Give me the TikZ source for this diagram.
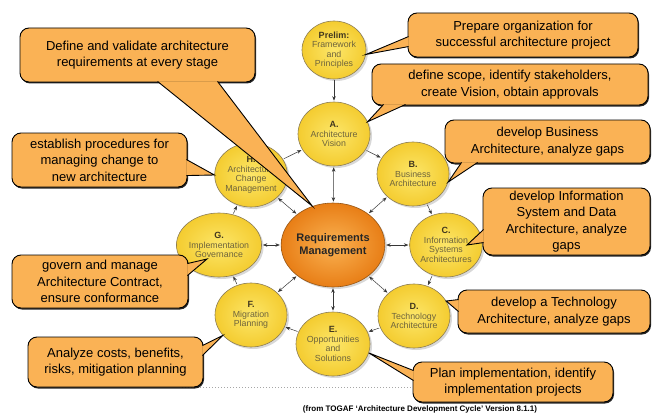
\documentclass[tikz,border=0pt]{standalone}
\usepackage{fontspec}
\setmainfont{Liberation Sans}
\usepackage{tikz}
\usetikzlibrary{arrows.meta,shapes.geometric,shadows,calc}

\definecolor{noteorange}{RGB}{250,178,85}
\definecolor{phaseyellow}{RGB}{244,204,48}
\definecolor{phaselight}{RGB}{252,230,105}
\definecolor{phaseedge}{RGB}{140,125,85}
\definecolor{phasetext}{RGB}{110,100,60}
\definecolor{letterdark}{RGB}{65,55,30}
\definecolor{hubouter}{RGB}{232,126,22}
\definecolor{hubinner}{RGB}{250,178,82}
\definecolor{hubedge}{RGB}{150,85,20}
\definecolor{arrowgray}{RGB}{55,55,55}

\tikzset{
  phase/.style={ellipse, draw=phaseedge, line width=0.6pt, inner color=phaselight, outer color=phaseyellow,
    minimum width=72pt, minimum height=64pt, inner sep=0pt, align=center, text=phasetext,
    font=\fontsize{8.8}{9.5}\selectfont,
    drop shadow={shadow xshift=2pt, shadow yshift=-2pt, fill=black!30, opacity=0.5}},
  hub/.style={ellipse, draw=hubedge, line width=0.6pt, inner color=hubinner, outer color=hubouter,
    minimum width=90pt, minimum height=84pt, inner sep=0pt, align=center, text=black!85,
    font=\fontsize{11}{13}\selectfont\bfseries,
    drop shadow={shadow xshift=2pt, shadow yshift=-2pt, fill=black!30, opacity=0.5}},
  note/.style={rectangle, rounded corners=9pt, draw=black, line width=0.9pt, fill=noteorange,
    align=center, inner sep=0pt, font=\fontsize{13}{16.5}\selectfont,
    drop shadow={shadow xshift=1pt, shadow yshift=-1.5pt, fill=black, opacity=0.85}},
  tail/.style={draw=black, line width=0.9pt, fill=noteorange, line join=miter},
  ring/.style={draw=arrowgray, line width=0.5pt, -{Stealth[length=4.5pt,width=3.5pt]}, shorten >=1pt, shorten <=1pt},
  spoke/.style={draw=arrowgray, line width=0.5pt, {Stealth[length=4.5pt,width=3.5pt]}-{Stealth[length=4.5pt,width=3.5pt]}, shorten >=1pt, shorten <=1pt}
}
\newcommand{\stage}[1]{{\color{letterdark}\fontsize{9}{9.5}\selectfont\bfseries #1}}

\begin{document}
\begin{tikzpicture}[x=1pt, y=1pt]
  \useasboundingbox (0,0) rectangle (652,-417);

  % the cycle
  \node[phase, minimum width=64pt, minimum height=58pt] (prelim) at (334,-50) {\stage{Prelim:}\\Framework\\and\\Principles};
  \node[phase] (visionA) at (334,-134) {\stage{A.}\\Architecture\\Vision};
  \node[phase] (bizB) at (413,-174) {\stage{B.}\\Business\\Architecture};
  \node[phase] (infoC) at (446,-245) {\stage{C.}\\Information\\Systems\\Architectures};
  \node[phase] (techD) at (414,-316) {\stage{D.}\\Technology\\Architecture};
  \node[phase] (oppE) at (333,-344) {\stage{E.}\\Opportunities\\and\\Solutions};
  \node[phase] (migF) at (251,-315) {\stage{F.}\\Migration\\Planning};
  \node[phase] (govG) at (219,-245) {\stage{G.}\\Implementation\\Governance};
  \node[phase] (archH) at (251,-175) {\stage{H.}\\Architecture\\Change\\Management};
  \node[hub] (req) at (333,-245) {Requirements\\Management};

  \draw [ring] (prelim) to (visionA);
  \draw [ring] (visionA) to (bizB);
  \draw [ring] (bizB) to (infoC);
  \draw [ring] (infoC) to (techD);
  \draw [ring] (techD) to (oppE);
  \draw [ring] (oppE) to (migF);
  \draw [ring] (migF) to (govG);
  \draw [ring] (govG) to (archH);
  \draw [ring] (archH) to (visionA);

  \foreach \p in {visionA,bizB,infoC,techD,oppE,migF,govG,archH}
    \draw [spoke] (req) to (\p);

  \draw [dash pattern=on 1pt off 2pt, black!35] (182,-387) -- (412,-387);

  % callouts
  \node[note, minimum width=235pt, minimum height=54pt] (define) at (137.5,-55)
    {Define and validate architecture\\requirements at every stage};
  \draw [tail] ($(define.south west)+(138,1)$) -- (req.118) -- ($(define.south west)+(198,1)$);

  \node[note, minimum width=230pt, minimum height=44pt] (prepare) at (523,-35)
    {Prepare organization for\\successful architecture project};
  \draw [tail] ($(prepare.north west)+(1,-24)$) -- (prelim.-8) -- ($(prepare.north west)+(1,-34)$);

  \node[note, minimum width=276pt, minimum height=41pt] (scope) at (510,-84.5)
    {define scope, identify stakeholders,\\create Vision, obtain approvals};
  \draw [tail] ($(scope.south west)+(12,1)$) -- (visionA.20) -- ($(scope.south west)+(34,1)$);

  \node[note, minimum width=205pt, minimum height=43pt] (business) at (547.5,-141.5)
    {develop Business\\Architecture, analyze gaps};
  \draw [tail] ($(business.south west)+(17,1)$) -- (bizB.-13) -- ($(business.south west)+(33,1)$);

  \node[note, minimum width=167pt, minimum height=67pt] (infosys) at (566.5,-221.5)
    {develop Information\\System and Data\\Architecture, analyze\\gaps};
  \draw [tail] ($(infosys.north west)+(1,-42)$) -- ($(infoC.center)+(21,0)$) -- ($(infosys.north west)+(1,-55)$);

  \node[note, minimum width=192pt, minimum height=43pt] (techno) at (554,-311.5)
    {develop a Technology\\Architecture, analyze gaps};
  \draw [tail] ($(techno.north west)+(1,-10)$) -- (techD.25) -- ($(techno.north west)+(1,-22)$);

  \node[note, minimum width=200pt, minimum height=40pt] (plan) at (513,-382)
    {Plan implementation, identify\\implementation projects};
  \draw [tail] ($(plan.north west)+(1,-9)$) -- (oppE.-14) -- ($(plan.north west)+(1,-19)$);

  \node[note, minimum width=175pt, minimum height=50pt] (costs) at (115.5,-362)
    {Analyze costs, benefits,\\risks, mitigation planning};
  \draw [tail] ($(costs.north east)+(-1,-9)$) -- (migF.216) -- ($(costs.north east)+(-1,-19)$);

  \node[note, minimum width=176pt, minimum height=53pt] (govern) at (100,-281.5)
    {govern and manage\\Architecture Contract,\\ensure conformance};
  \draw [tail] ($(govern.north east)+(-1,-9)$) -- ($(govG.center)+(-12,-14)$) -- ($(govern.north east)+(-1,-21)$);

  \node[note, minimum width=175pt, minimum height=54pt] (change) at (99.5,-160)
    {establish procedures for\\managing change to\\new architecture};
  \draw [tail] ($(change.north east)+(-1,-27)$) -- (archH.west) -- ($(change.north east)+(-1,-43)$);

  \node (source) at (420,-409) {\fontsize{8}{9}\selectfont\bfseries (from TOGAF `Architecture Development Cycle' Version 8.1.1)};
\end{tikzpicture}
\end{document}
